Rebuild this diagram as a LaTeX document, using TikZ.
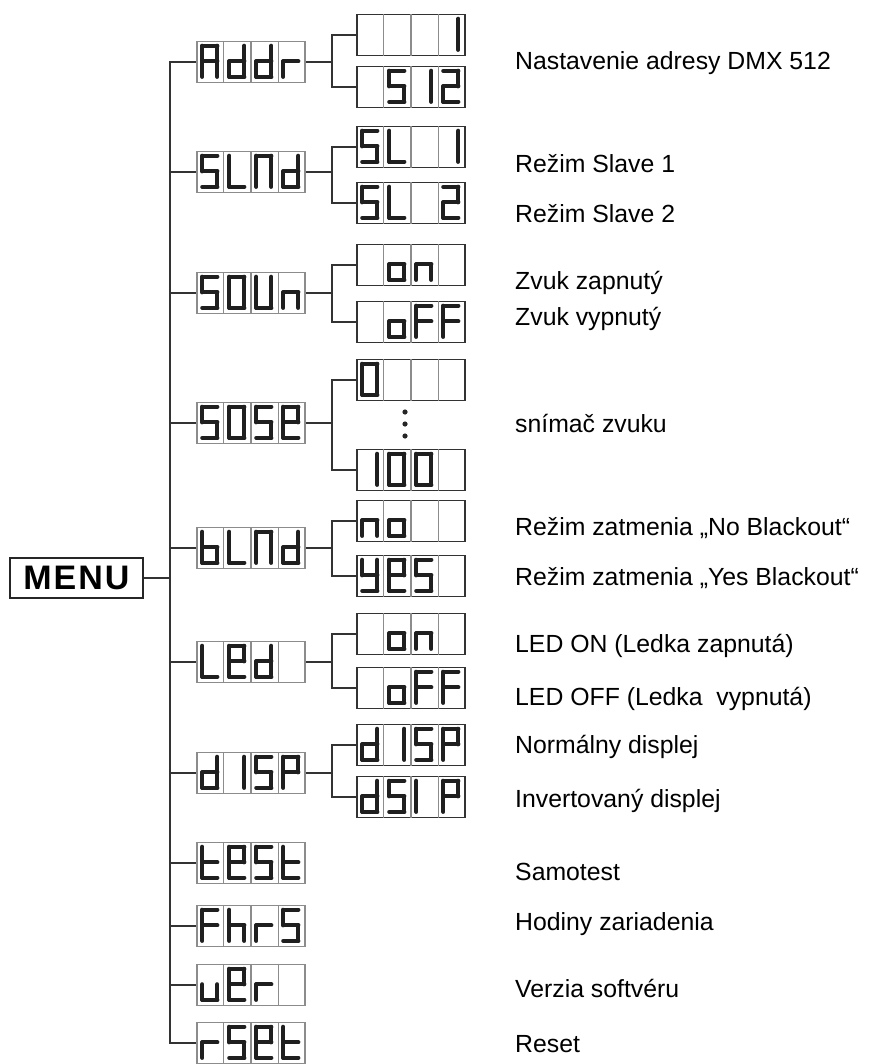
\documentclass[tikz,border=0pt]{standalone}
\usepackage{fontspec}
\setmainfont{Liberation Sans}
\usetikzlibrary{calc}

% one segment of a 7-segment digit, cell origin top left, y down
\newcommand\drawseg[1]{%
  \if#1a\draw[segline] (6,5) -- (21,5);\fi
  \if#1b\draw[segline] (21,5) -- (21,20.5);\fi
  \if#1c\draw[segline] (21,20.5) -- (21,36);\fi
  \if#1d\draw[segline] (6,36) -- (21,36);\fi
  \if#1e\draw[segline] (6,20.5) -- (6,36);\fi
  \if#1f\draw[segline] (6,5) -- (6,20.5);\fi
  \if#1g\draw[segline] (6,20.5) -- (21,20.5);\fi}
\newcommand\glyph[2]{\begin{scope}[xshift=#1]\foreach \s in #2{\drawseg{\s}}\end{scope}}
\newcommand\dispcells[5]{%
  \foreach \k in {1,2,3}
    \draw[cellline] ($(#1.north west)!\k/4!(#1.north east)$) -- ($(#1.south west)!\k/4!(#1.south east)$);
  \begin{scope}[shift={(#1.north west)}]
    \glyph{0}{#2}\glyph{27}{#3}\glyph{54}{#4}\glyph{81}{#5}
  \end{scope}}

% glyphs
\def\gA{a,b,c,e,f,g}  \def\gd{b,c,d,e,g}  \def\gr{e,g}
\def\gS{a,c,d,f,g}    \def\gL{d,e,f}      \def\gN{a,b,c,e,f}
\def\gO{a,b,c,d,e,f}  \def\gU{b,c,d,e,f}  \def\gn{c,e,g}
\def\go{c,d,e,g}      \def\gF{a,e,f,g}    \def\gE{a,b,d,e,f,g}
\def\gb{c,d,e,f,g}    \def\gy{b,c,d,f,g}  \def\gI{b,c}
\def\gJ{e,f}          \def\gP{a,b,e,f,g}  \def\gt{d,e,f,g}
\def\gh{c,e,f,g}      \def\gu{c,d,e}      \def\gtwo{a,b,d,e,g}
\def\gx{x}

\begin{document}
\begin{tikzpicture}[
  x=1pt, y=-1pt,
  menubox/.style={draw=black!85, line width=1.3, minimum width=133, minimum height=40,
                  inner sep=0, font=\fontsize{34}{40}\selectfont\bfseries},
  dispbox/.style={draw=black!45, line width=1.4, minimum width=108, minimum height=41, inner sep=0},
  valbox/.style={dispbox, draw=black!80},
  cellline/.style={draw=black!45, line width=1.2},
  segline/.style={draw=black!88, line width=4.2, line cap=round, line join=round},
  wire/.style={draw=black!80, line width=1.8},
  desc/.style={anchor=base west, inner sep=0, font=\fontsize{24.8}{30}\selectfont}
]
  \useasboundingbox (0,0) rectangle (889,1064);

  % Menu
  \node[menubox] (menu) at (76.5,578) {M\kern2pt E\kern2pt N\kern2pt U};
  \coordinate (trunk) at (170,578);

  % first level
  \node[dispbox] (addr) at (251,62) {};
  \node[dispbox] (slnd) at (251,172) {};
  \node[dispbox] (soun) at (251,293) {};
  \node[dispbox] (sose) at (251,423) {};
  \node[dispbox] (blnd) at (251,548) {};
  \node[dispbox] (led)  at (251,662) {};
  \node[dispbox] (disp) at (251,773) {};
  \node[dispbox] (test) at (251,863) {};
  \node[dispbox] (fhrs) at (251,926) {};
  \node[dispbox] (uer)  at (251,985) {};
  \node[dispbox] (rset) at (251,1043) {};

  % second level
  \node[valbox] (addra) at (411,35) {};
  \node[valbox] (addrb) at (411,87) {};
  \node[valbox] (slnda) at (411,147) {};
  \node[valbox] (slndb) at (411,203) {};
  \node[valbox] (souna) at (411,265) {};
  \node[valbox] (sounb) at (411,322) {};
  \node[valbox] (sosea) at (411,380) {};
  \node[valbox] (soseb) at (411,470) {};
  \node[valbox] (blnda) at (411,521) {};
  \node[valbox] (blndb) at (411,576) {};
  \node[valbox] (leda)  at (411,634) {};
  \node[valbox] (ledb)  at (411,688) {};
  \node[valbox] (dispa) at (411,745) {};
  \node[valbox] (dispb) at (411,797) {};

  % display contents
  \dispcells{addr}{\gA}{\gd}{\gd}{\gr}
  \dispcells{slnd}{\gS}{\gL}{\gN}{\gd}
  \dispcells{soun}{\gS}{\gO}{\gU}{\gn}
  \dispcells{sose}{\gS}{\gO}{\gS}{\gE}
  \dispcells{blnd}{\gb}{\gL}{\gN}{\gd}
  \dispcells{led}{\gL}{\gE}{\gd}{\gx}
  \dispcells{disp}{\gd}{\gI}{\gS}{\gP}
  \dispcells{test}{\gt}{\gE}{\gS}{\gt}
  \dispcells{fhrs}{\gF}{\gh}{\gr}{\gS}
  \dispcells{uer}{\gu}{\gE}{\gr}{\gx}
  \dispcells{rset}{\gr}{\gS}{\gE}{\gt}
  \dispcells{addra}{\gx}{\gx}{\gx}{\gI}
  \dispcells{addrb}{\gx}{\gS}{\gI}{\gtwo}
  \dispcells{slnda}{\gS}{\gL}{\gx}{\gI}
  \dispcells{slndb}{\gS}{\gL}{\gx}{\gtwo}
  \dispcells{souna}{\gx}{\go}{\gn}{\gx}
  \dispcells{sounb}{\gx}{\go}{\gF}{\gF}
  \dispcells{sosea}{\gO}{\gx}{\gx}{\gx}
  \dispcells{soseb}{\gI}{\gO}{\gO}{\gx}
  \dispcells{blnda}{\gn}{\go}{\gx}{\gx}
  \dispcells{blndb}{\gy}{\gE}{\gS}{\gx}
  \dispcells{leda}{\gx}{\go}{\gn}{\gx}
  \dispcells{ledb}{\gx}{\go}{\gF}{\gF}
  \dispcells{dispa}{\gd}{\gI}{\gS}{\gP}
  \dispcells{dispb}{\gd}{\gS}{\gJ}{\gP}

  % wires
  \draw[wire] (menu) -- (trunk);
  \foreach \n in {addr,slnd,soun,sose,blnd,led,disp,test,fhrs,uer,rset}
    \draw[wire] (trunk) |- (\n.west);
  \foreach \p/\a/\b in {addr/addra/addrb, slnd/slnda/slndb, soun/souna/sounb,
                        sose/sosea/soseb, blnd/blnda/blndb, led/leda/ledb, disp/dispa/dispb}
    \draw[wire] (\p.east) -- ($(\p.east)+(26,0)$) coordinate (j) |- (\a.west) (j) |- (\b.west);

  % dots
  \foreach \y in {412,424,436}
    \fill[black!85] (405,\y) circle (2.6);

  % descriptions
  \node[desc] (taddr)  at (515,70)   {Nastavenie adresy DMX 512};
  \node[desc] (tsl1)   at (515,173)  {Režim Slave 1};
  \node[desc] (tsl2)   at (515,223)  {Režim Slave 2};
  \node[desc] (ton)    at (515,290)  {Zvuk zapnutý};
  \node[desc] (toff)   at (515,325)  {Zvuk vypnutý};
  \node[desc] (tsose)  at (515,432)  {snímač zvuku};
  \node[desc] (tno)    at (515,535)  {Režim zatmenia „No Blackout“};
  \node[desc] (tyes)   at (515,585)  {Režim zatmenia „Yes Blackout“};
  \node[desc] (tledon) at (515,652)  {LED ON (Ledka zapnutá)};
  \node[desc] (tledof) at (515,705)  {LED OFF (Ledka\ \ vypnutá)};
  \node[desc] (tnorm)  at (515,753)  {Normálny displej};
  \node[desc] (tinv)   at (515,807)  {Invertovaný displej};
  \node[desc] (ttest)  at (515,880)  {Samotest};
  \node[desc] (tfhrs)  at (515,930)  {Hodiny zariadenia};
  \node[desc] (tver)   at (515,997)  {Verzia softvéru};
  \node[desc] (trset)  at (515,1052) {Reset};
\end{tikzpicture}
\end{document}
